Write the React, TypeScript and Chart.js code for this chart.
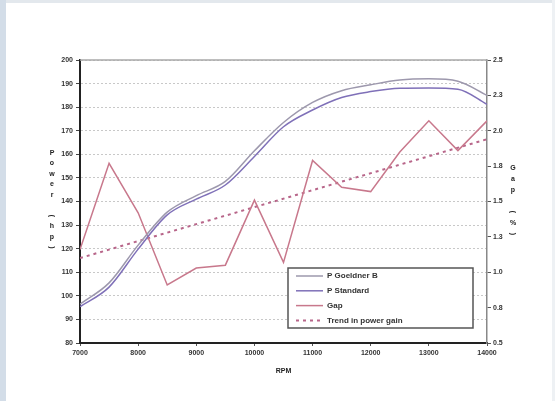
import React, { useEffect, useRef } from "react";
import { Chart, registerables } from "chart.js";

Chart.register(...registerables);

// ---- data ----
const rpm = [7000, 7500, 8000, 8500, 9000, 9500, 10000, 10500, 11000, 11500, 12000, 12500, 13000, 13500, 14000];
const powerGoeldner = [96.5, 105.5, 121.5, 135.5, 142.5, 148.5, 161.5, 173.5, 182.0, 187.0, 189.5, 191.5, 192.0, 191.0, 185.0];
const powerStandard = [95.4, 103.7, 119.8, 134.3, 141.0, 147.0, 159.1, 171.7, 178.8, 184.1, 186.6, 188.0, 188.1, 187.6, 181.2];
const gapPercent = [1.16, 1.77, 1.42, 0.91, 1.03, 1.05, 1.51, 1.07, 1.79, 1.6, 1.57, 1.85, 2.07, 1.86, 2.07];
const trendRpm = [7000, 14000];
const trendGain = [1.1, 1.94];

const seriesLabels = ["P Goeldner B", "P Standard", "Gap", "Trend in power gain"];
const leftTitle = "Power (hp)";
const rightTitle = "Gap (%)";
const xTitle = "RPM";

const FONT = '"Liberation Sans", Arial, sans-serif';

function drawStacked(ctx: CanvasRenderingContext2D, text: string, x: number, y0: number, step: number) {
  let y = y0;
  for (const ch of text) {
    if (ch !== " ") {
      if (ch === "(" || ch === ")") {
        ctx.save();
        ctx.translate(x, y);
        ctx.rotate(Math.PI / 2);
        ctx.fillText(ch, 0, 0);
        ctx.restore();
      } else {
        ctx.fillText(ch, x, y);
      }
    }
    y += step;
  }
}

const chromePlugin = {
  id: "chrome",
  beforeDraw(chart: any) {
    const { ctx, width, height } = chart;
    ctx.save();
    ctx.fillStyle = "#ffffff";
    ctx.fillRect(0, 0, width, height);
    ctx.fillStyle = "#d3dde8";
    ctx.fillRect(0, 0, 6, height);
    ctx.fillStyle = "#e3e8ed";
    ctx.fillRect(6, 0, width - 6, 3);
    ctx.fillStyle = "#eef1f4";
    ctx.fillRect(width - 3, 0, 3, height);
    ctx.restore();
  },
  afterDraw(chart: any) {
    const { ctx, chartArea: ca } = chart;
    ctx.save();
    // top border of plot
    ctx.strokeStyle = "#a8a8a8";
    ctx.lineWidth = 1.5;
    ctx.beginPath();
    ctx.moveTo(ca.left, ca.top);
    ctx.lineTo(ca.right, ca.top);
    ctx.stroke();

    // titles
    ctx.fillStyle = "#222";
    ctx.font = `bold 7px ${FONT}`;
    ctx.textAlign = "center";
    ctx.textBaseline = "middle";
    drawStacked(ctx, leftTitle, 52, 153, 10.5);
    drawStacked(ctx, rightTitle, 513, 168, 11);
    ctx.fillText(xTitle, (ca.left + ca.right) / 2, 371);

    // legend
    const lx = 288, ly = 268, lw = 185, lh = 60;
    ctx.fillStyle = "#ffffff";
    ctx.fillRect(lx, ly, lw, lh);
    ctx.strokeStyle = "#555";
    ctx.lineWidth = 1.5;
    ctx.strokeRect(lx, ly, lw, lh);
    ctx.textAlign = "left";
    ctx.font = `bold 8px ${FONT}`;
    chart.data.datasets.forEach((ds: any, i: number) => {
      const y = ly + 8 + i * 14.8;
      ctx.save();
      ctx.strokeStyle = ds.borderColor;
      ctx.lineWidth = ds.borderWidth;
      ctx.setLineDash(ds.borderDash || []);
      ctx.beginPath();
      ctx.moveTo(lx + 8, y);
      ctx.lineTo(lx + 35, y);
      ctx.stroke();
      ctx.restore();
      ctx.fillStyle = "#333";
      ctx.fillText(ds.label, lx + 39, y);
    });
    ctx.restore();
  },
};

export default function App() {
  const ref = useRef<HTMLCanvasElement | null>(null);

  useEffect(() => {
    if (!ref.current) return;
    const pts = (xs: number[], ys: number[]) => xs.map((x, i) => ({ x, y: ys[i] }));
    const tickFont = { family: FONT, size: 7, weight: "bold" as const };
    const chart = new Chart(ref.current, {
      type: "line",
      data: {
        datasets: [
          {
            label: seriesLabels[0],
            data: pts(rpm, powerGoeldner),
            borderColor: "#9d98ad",
            borderWidth: 1.5,
            pointRadius: 0,
            cubicInterpolationMode: "monotone",
            yAxisID: "y",
          },
          {
            label: seriesLabels[1],
            data: pts(rpm, powerStandard),
            borderColor: "#7f70b8",
            borderWidth: 1.5,
            pointRadius: 0,
            cubicInterpolationMode: "monotone",
            yAxisID: "y",
          },
          {
            label: seriesLabels[2],
            data: pts(rpm, gapPercent),
            borderColor: "#c8788c",
            borderWidth: 1.5,
            pointRadius: 0,
            tension: 0,
            yAxisID: "y1",
          },
          {
            label: seriesLabels[3],
            data: pts(trendRpm, trendGain),
            borderColor: "#b8668a",
            borderWidth: 2,
            borderDash: [3, 4],
            pointRadius: 0,
            tension: 0,
            yAxisID: "y1",
          },
        ],
      },
      options: {
        responsive: false,
        animation: false,
        events: [],
        layout: { padding: { left: 40, right: 38, top: 60, bottom: 38 } },
        plugins: { legend: { display: false }, tooltip: { enabled: false } },
        scales: {
          x: {
            type: "linear",
            min: 7000,
            max: 14000,
            ticks: { stepSize: 1000, font: tickFont, color: "#333", padding: 3, maxRotation: 0, callback: (v: any) => String(v) },
            grid: { drawOnChartArea: false, tickLength: 3, tickColor: "#555" },
            border: { color: "#222", width: 2 },
            afterFit: (s: any) => { s.height = 20; },
          },
          y: {
            position: "left",
            min: 80,
            max: 200,
            ticks: { stepSize: 10, font: tickFont, color: "#333", padding: 3 },
            grid: { color: "#c8c8c8", lineWidth: 1, tickLength: 4, tickColor: "#444" },
            border: { color: "#222", width: 2, dash: [2, 2] },
            afterFit: (s: any) => { s.width = 40; },
          },
          y1: {
            position: "right",
            min: 0.5,
            max: 2.5,
            ticks: { stepSize: 0.25, font: tickFont, color: "#333", padding: 2, callback: (v: any) => Number(v).toFixed(1) },
            grid: { drawOnChartArea: false, tickLength: 4, tickColor: "#555" },
            border: { color: "#888", width: 1.5 },
            afterFit: (s: any) => { s.width = 30; },
          },
        },
      },
      plugins: [chromePlugin],
    } as any);
    return () => chart.destroy();
  }, []);

  return (
    <div style={{ width: 555, height: 401, overflow: "hidden" }}>
      <style>{"html,body{margin:0;padding:0;overflow:hidden;background:#fff}"}</style>
      <canvas ref={ref} width={555} height={401} style={{ display: "block", width: 555, height: 401 }} />
    </div>
  );
}
